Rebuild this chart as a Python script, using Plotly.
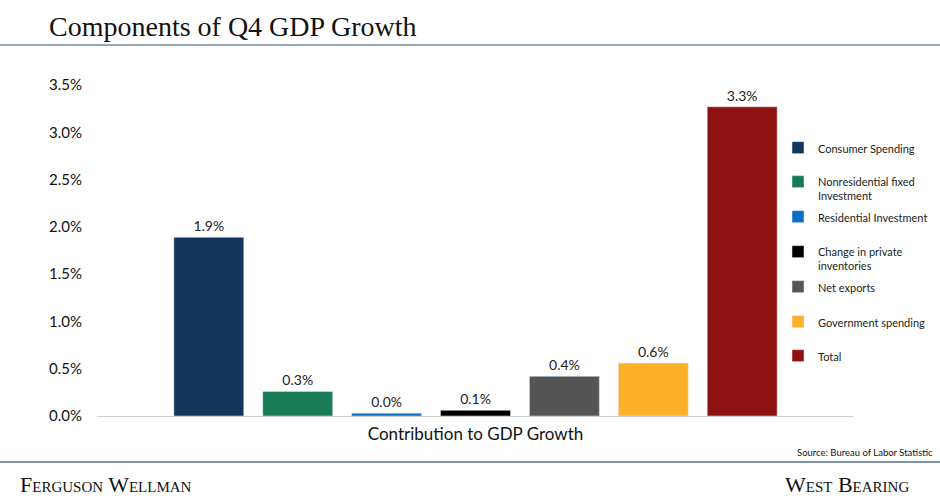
import plotly.graph_objects as go

categories = ["Contribution to GDP Growth"]
series_names = [
    "Consumer Spending",
    "Nonresidential fixed<br>Investment",
    "Residential Investment",
    "Change in private<br>inventories",
    "Net exports",
    "Government spending",
    "Total",
]
series_values = [1.89, 0.26, 0.03, 0.06, 0.42, 0.56, 3.27]
series_colors = ["#12355b", "#177b56", "#0a6fc2", "#000000", "#555555", "#fdb12a", "#8e1212"]
y_ticks = [0, 0.5, 1.0, 1.5, 2.0, 2.5, 3.0, 3.5]
y_tick_labels = ["0.0%", "0.5%", "1.0%", "1.5%", "2.0%", "2.5%", "3.0%", "3.5%"]

W, H = 940, 499
L, R, T, B = 97, 940 - 854, 85, 499 - 416
PW, PH = W - L - R, H - T - B

def px(x):
    return (x - L) / PW

def py(y):
    return (H - B - y) / PH

SANS = "Lato, 'Open Sans', sans-serif"
SERIF = "'Liberation Serif', 'DejaVu Serif', serif"

fig = go.Figure()
legend_y_px = [149, 183, 218, 253, 288, 323, 357]
for i, (name, val, col) in enumerate(zip(series_names, series_values, series_colors)):
    lg = "legend" if i == 0 else f"legend{i+1}"
    fig.add_trace(go.Bar(
        x=categories, y=[val], name=name, marker_color=col,
        text=[val], texttemplate="%{y:.1f}%", textposition="outside",
        textfont=dict(family=SANS, size=14, color="#222222"),
        cliponaxis=False, legend=lg,
    ))

layout_legends = {}
for i, ypx in enumerate(legend_y_px):
    key = "legend" if i == 0 else f"legend{i+1}"
    layout_legends[key] = dict(
        x=px(778), y=py(ypx - 15), xanchor="left", yanchor="top",
        bgcolor="rgba(0,0,0,0)", font=dict(family=SANS, size=11, color="#222222"),
        itemwidth=30, valign="top", tracegroupgap=0,
    )

fig.update_layout(
    width=W, height=H,
    margin=dict(l=L, r=R, t=T, b=B, autoexpand=False),
    paper_bgcolor="white", plot_bgcolor="white",
    barmode="group", bargap=0.178, bargroupgap=0.213,
    showlegend=True,
    yaxis=dict(range=[0, 3.5], tickvals=y_ticks, ticktext=y_tick_labels,
               showgrid=False, zeroline=False, showline=False, ticks="",
               tickfont=dict(family=SANS, size=15, color="#111111"),
               ticklabelstandoff=14),
    xaxis=dict(range=[-0.5, 0.5], showline=True, linecolor="#d0d0d0", linewidth=1, showgrid=False,
               ticks="", tickfont=dict(family=SANS, size=17, color="#111111"),
               ticklabelstandoff=3),
    **layout_legends,
)

annotations = [
    dict(text="Components of Q4 GDP Growth", x=px(47), y=py(27), xanchor="left", yanchor="middle",
         font=dict(family=SERIF, size=28, color="#111111")),
    dict(text="Source: Bureau of Labor Statistic", x=px(935), y=py(452), xanchor="right", yanchor="middle",
         font=dict(family=SANS, size=9.5, color="#111111")),
    dict(text="Ferguson Wellman", x=px(18), y=py(484), xanchor="left", yanchor="middle",
         font=dict(family=SERIF, size=22, color="#111111", variant="small-caps")),
    dict(text="West Bearing", x=px(911), y=py(484), xanchor="right", yanchor="middle",
         font=dict(family=SERIF, size=22, color="#111111", variant="small-caps")),
]
for a in annotations:
    a.update(xref="paper", yref="paper", showarrow=False)
fig.update_layout(annotations=annotations)

fig.update_layout(shapes=[
    dict(type="line", xref="paper", yref="paper", x0=px(0), x1=px(940), y0=py(45), y1=py(45),
         line=dict(color="#94a7bb", width=2)),
    dict(type="line", xref="paper", yref="paper", x0=px(0), x1=px(940), y0=py(462), y1=py(462),
         line=dict(color="#7f95ab", width=2)),
])

fig.write_html("out.html", config={"displayModeBar": False},
               post_script="document.body.style.margin='0';")
